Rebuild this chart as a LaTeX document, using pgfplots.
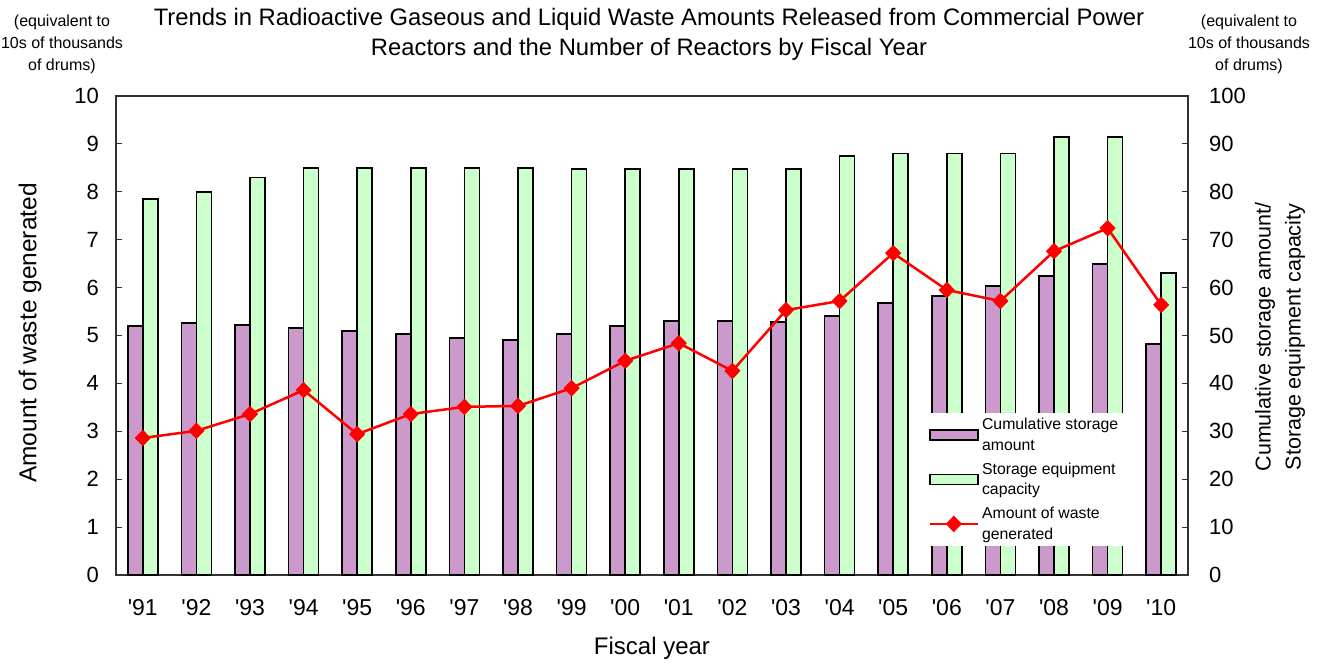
\documentclass[border=0pt]{standalone}
\usepackage{fontspec}
\setmainfont{Liberation Sans}
\usepackage{pgfplots}
\pgfplotsset{compat=1.18}
\definecolor{barpurple}{HTML}{CC99CC}
\definecolor{bargreen}{HTML}{CCFFCC}
\pgfplotsset{widelegend/.style={legend image code/.code={\draw[##1, mark repeat=2, mark phase=2] plot coordinates {(0pt,0pt) (24pt,0pt) (48pt,0pt)};}}}
\begin{document}
\begin{tikzpicture}[x=1pt,y=1pt]
\useasboundingbox (0,0) rectangle (1322,664);
% ---------- bars on the right axis (0-100) ----------
\begin{axis}[
  at={(116pt,89pt)}, anchor=south west, scale only axis,
  width=1072pt, height=479pt,
  xmin=-0.5, xmax=19.5, ymin=0, ymax=100,
  axis line style={black!80, line width=1.2pt},
  tick align=inside, tick style={black!80, line width=1pt},
  major tick length=6pt, minor tick length=6pt,
  xtick={0,...,19},
  xticklabels={\textquotesingle91,\textquotesingle92,\textquotesingle93,\textquotesingle94,\textquotesingle95,\textquotesingle96,\textquotesingle97,\textquotesingle98,\textquotesingle99,\textquotesingle00,\textquotesingle01,\textquotesingle02,\textquotesingle03,\textquotesingle04,\textquotesingle05,\textquotesingle06,\textquotesingle07,\textquotesingle08,\textquotesingle09,\textquotesingle10},
  x tick style={draw=none},
  minor xtick={0.5,1.5,...,18.5},
  minor x tick style={black!80, line width=1pt},
  xtick pos=lower,
  ytick={0,10,...,100}, ytick pos=right,
  /pgf/number format/assume math mode=true,
  ticklabel style={font=\fontsize{22}{26}\selectfont},
  xticklabel style={inner sep=0pt, yshift=-24pt, font=\fontsize{23}{26}\selectfont},
  yticklabel style={inner sep=0pt, anchor=west, xshift=21pt},
  clip=false,
]
\addplot[ybar, bar width=15pt, bar shift=-7.5pt, fill=barpurple, draw=black, line width=1.6pt]
 coordinates {(0,52.0) (1,52.6) (2,52.2) (3,51.6) (4,50.9) (5,50.3) (6,49.5) (7,49.0) (8,50.3) (9,52.0)
  (10,53.0) (11,53.0) (12,52.8) (13,54.1) (14,56.8) (15,58.2) (16,60.3) (17,62.4) (18,64.9) (19,48.2)};
\addplot[ybar, bar width=15pt, bar shift=7.5pt, fill=bargreen, draw=black, line width=1.6pt]
 coordinates {(0,78.5) (1,80.0) (2,83.0) (3,85.0) (4,85.0) (5,85.0) (6,85.0) (7,85.0) (8,84.7) (9,84.7)
  (10,84.7) (11,84.7) (12,84.7) (13,87.5) (14,88.0) (15,88.0) (16,88.0) (17,91.5) (18,91.5) (19,63.0)};
\end{axis}
% ---------- line on the left axis (0-10) ----------
\begin{axis}[
  at={(116pt,89pt)}, anchor=south west, scale only axis,
  width=1072pt, height=479pt,
  xmin=-0.5, xmax=19.5, ymin=0, ymax=10,
  hide x axis,
  axis line style={black!80, line width=1.2pt},
  tick align=inside, tick style={black!80, line width=1pt},
  major tick length=6pt,
  ytick={0,1,...,10}, ytick pos=left,
  /pgf/number format/assume math mode=true,
  ticklabel style={font=\fontsize{22}{26}\selectfont},
  yticklabel style={inner sep=0pt, anchor=east, xshift=-17pt},
  legend style={at={(0.755,0.338)}, anchor=north west, draw=none, fill=white,
    font=\fontsize{15.8}{20.5}\selectfont, inner xsep=3pt, inner ysep=3pt,
    row sep=7pt, nodes={align=left, inner xsep=3pt}},
  legend cell align=left,
  clip=false,
]
\addlegendimage{legend image code/.code={\draw[fill=barpurple,draw=black,line width=1.6pt] (0pt,-5pt) rectangle (48pt,5pt);}}
\addlegendentry{Cumulative storage\\amount}
\addlegendimage{legend image code/.code={\draw[fill=bargreen,draw=black,line width=1.6pt] (0pt,-5pt) rectangle (48pt,5pt);}}
\addlegendentry{Storage equipment\\capacity}
\addplot[red, line width=2.5pt, mark=diamond*, mark size=6.5pt, mark options={xscale=1.3, solid},
  widelegend]
 coordinates {(0,2.86) (1,3.01) (2,3.36) (3,3.86) (4,2.94) (5,3.36) (6,3.51) (7,3.53) (8,3.90) (9,4.47)
  (10,4.84) (11,4.26) (12,5.53) (13,5.72) (14,6.72) (15,5.95) (16,5.72) (17,6.76) (18,7.24) (19,5.64)};
\addlegendentry{Amount of waste\\generated}
\end{axis}
% ---------- texts ----------
\node[align=center, font=\fontsize{23.8}{30}\selectfont] at (649,630)
  {Trends in Radioactive Gaseous and Liquid Waste Amounts Released from Commercial Power\\Reactors and the Number of Reactors by Fiscal Year};
\node[align=center, font=\fontsize{16}{22}\selectfont] at (62,620)
  {(equivalent to\\10s of thousands\\of drums)};
\node[align=center, font=\fontsize{16}{22}\selectfont] at (1249,620)
  {(equivalent to\\10s of thousands\\of drums)};
\node[rotate=90, font=\fontsize{24.5}{28}\selectfont] at (30,331) {Amount of waste generated};
\node[rotate=90, align=center, font=\fontsize{21.5}{30}\selectfont] at (1280,327)
  {Cumulative storage amount/\\Storage equipment capacity};
\node[font=\fontsize{24}{28}\selectfont] at (652,16) {Fiscal year};
\end{tikzpicture}
\end{document}
